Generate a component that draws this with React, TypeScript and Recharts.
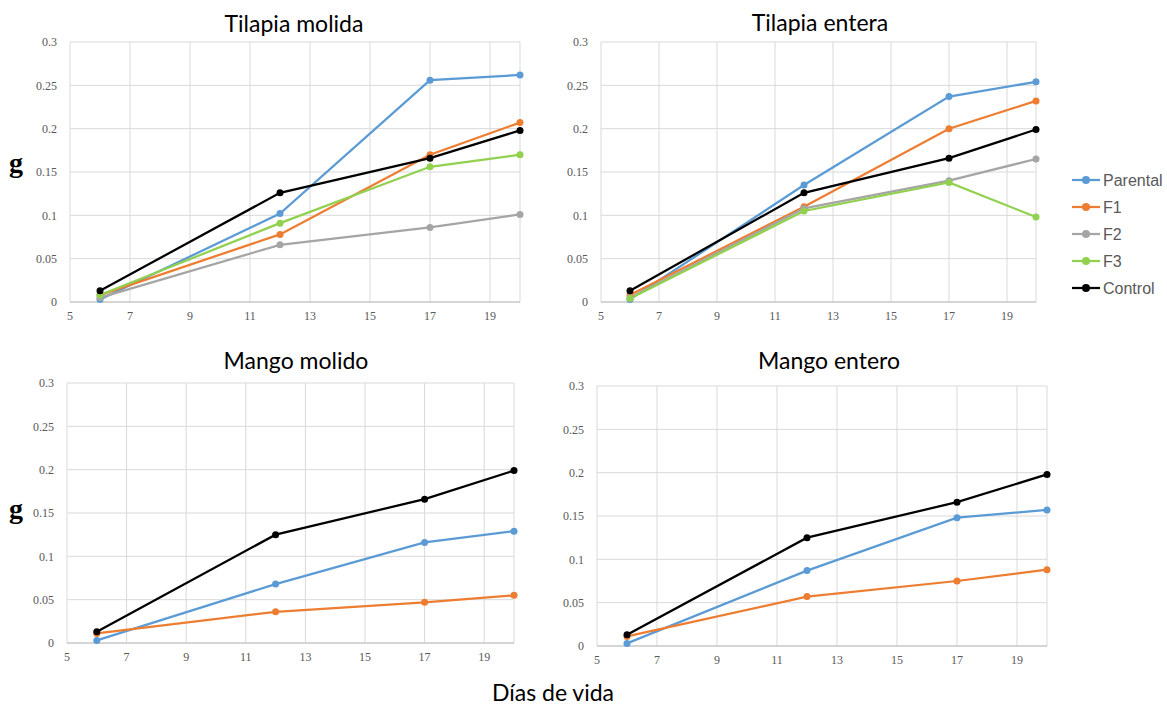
import { CartesianGrid, Line, LineChart, XAxis, YAxis } from "recharts"

// días de vida (x) and axis ticks
const days = [6, 12, 17, 20]
const xTicks = [5, 7, 9, 11, 13, 15, 17, 19]
const yTicks = [0, 0.05, 0.1, 0.15, 0.2, 0.25, 0.3]

// Tilapia molida
const tmParental = [0.003, 0.102, 0.256, 0.262]
const tmF1 = [0.008, 0.078, 0.17, 0.207]
const tmF2 = [0.005, 0.066, 0.086, 0.101]
const tmF3 = [0.008, 0.091, 0.156, 0.17]
const tmControl = [0.013, 0.126, 0.166, 0.198]

// Tilapia entera
const teParental = [0.003, 0.135, 0.237, 0.254]
const teF1 = [0.008, 0.11, 0.2, 0.232]
const teF2 = [0.005, 0.108, 0.14, 0.165]
const teF3 = [0.004, 0.105, 0.138, 0.098]
const teControl = [0.013, 0.126, 0.166, 0.199]

// Mango molido
const mmParental = [0.003, 0.068, 0.116, 0.129]
const mmF1 = [0.011, 0.036, 0.047, 0.055]
const mmControl = [0.013, 0.125, 0.166, 0.199]

// Mango entero
const meParental = [0.003, 0.087, 0.148, 0.157]
const meF1 = [0.011, 0.057, 0.075, 0.088]
const meControl = [0.013, 0.125, 0.166, 0.198]

const legendNames = ["Parental", "F1", "F2", "F3", "Control"]

const COLORS: Record<string, string> = {
  Parental: "#5B9BD5",
  F1: "#ED7D31",
  F2: "#A5A5A5",
  F3: "#92D050",
  Control: "#000000",
}

type Series = { name: string; values: number[] }

const tickStyle = { fontFamily: "Liberation Serif", fontSize: 12, fill: "#595959" }

function Panel({
  plotLeft,
  plotTop,
  plotWidth,
  plotHeight,
  series,
}: {
  plotLeft: number
  plotTop: number
  plotWidth: number
  plotHeight: number
  series: Series[]
}) {
  const yw = 60
  const mt = 10
  const mr = 12
  const xh = 30
  const data = days.map((d, i) => {
    const row: Record<string, number> = { day: d }
    series.forEach((s) => (row[s.name] = s.values[i]))
    return row
  })

  return (
    <div style={{ position: "absolute", left: plotLeft - yw, top: plotTop - mt }}>
      <LineChart
        width={yw + plotWidth + mr}
        height={mt + plotHeight + xh}
        data={data}
        margin={{ top: mt, right: mr, left: 0, bottom: 0 }}
      >
        <CartesianGrid stroke="#d9d9d9" />
        <XAxis
          dataKey="day"
          type="number"
          domain={[5, 20]}
          ticks={xTicks}
          height={xh}
          tickLine={false}
          axisLine={{ stroke: "#bfbfbf" }}
          tick={tickStyle}
          tickMargin={3}
        />
        <YAxis
          type="number"
          domain={[0, 0.3]}
          ticks={yTicks}
          width={yw}
          tickLine={false}
          axisLine={false}
          tick={tickStyle}
          tickMargin={7}
        />
        {series.map((s) => (
          <Line
            key={s.name}
            dataKey={s.name}
            stroke={COLORS[s.name]}
            strokeWidth={2.25}
            dot={{ r: 3.5, fill: COLORS[s.name], stroke: COLORS[s.name], strokeWidth: 0 }}
            isAnimationActive={false}
          />
        ))}
      </LineChart>
    </div>
  )
}

export default function App() {
  const titleFont = { fontFamily: "Lato", fontSize: 23, fill: "#000" }
  return (
    <div
      style={{
        position: "absolute",
        left: 0,
        top: 0,
        width: 1167,
        height: 708,
        background: "#fff",
        overflow: "hidden",
      }}
    >
      <Panel
        plotLeft={70}
        plotTop={42}
        plotWidth={450}
        plotHeight={260}
        series={[
          { name: "Parental", values: tmParental },
          { name: "F1", values: tmF1 },
          { name: "F2", values: tmF2 },
          { name: "F3", values: tmF3 },
          { name: "Control", values: tmControl },
        ]}
      />
      <Panel
        plotLeft={601}
        plotTop={42}
        plotWidth={435}
        plotHeight={260}
        series={[
          { name: "Parental", values: teParental },
          { name: "F1", values: teF1 },
          { name: "F2", values: teF2 },
          { name: "F3", values: teF3 },
          { name: "Control", values: teControl },
        ]}
      />
      <Panel
        plotLeft={67}
        plotTop={383}
        plotWidth={447}
        plotHeight={260}
        series={[
          { name: "Parental", values: mmParental },
          { name: "F1", values: mmF1 },
          { name: "Control", values: mmControl },
        ]}
      />
      <Panel
        plotLeft={597}
        plotTop={386}
        plotWidth={450}
        plotHeight={260}
        series={[
          { name: "Parental", values: meParental },
          { name: "F1", values: meF1 },
          { name: "Control", values: meControl },
        ]}
      />

      <svg
        width={1167}
        height={708}
        style={{ position: "absolute", left: 0, top: 0, pointerEvents: "none" }}
      >
        <text x={294} y={32} textAnchor="middle" {...titleFont}>Tilapia molida</text>
        <text x={820} y={31} textAnchor="middle" {...titleFont}>Tilapia entera</text>
        <text x={296} y={369} textAnchor="middle" {...titleFont}>Mango molido</text>
        <text x={829} y={369} textAnchor="middle" {...titleFont}>Mango entero</text>

        <text x={9} y={172} fontFamily="Liberation Serif" fontWeight="bold" fontSize={28}>g</text>
        <text x={9} y={518} fontFamily="Liberation Serif" fontWeight="bold" fontSize={28}>g</text>

        <text x={553} y={701} textAnchor="middle" fontFamily="Lato" fontSize={23} fill="#000">
          Días de vida
        </text>

        {legendNames.map((name, i) => {
          const cy = 180 + i * 27
          return (
            <g key={name}>
              <line x1={1072} x2={1100} y1={cy} y2={cy} stroke={COLORS[name]} strokeWidth={2.25} />
              <circle cx={1086} cy={cy} r={4} fill={COLORS[name]} />
              <text x={1103} y={cy + 6} fontFamily="Liberation Sans" fontSize={16} fill="#595959">
                {name}
              </text>
            </g>
          )
        })}
      </svg>
    </div>
  )
}
